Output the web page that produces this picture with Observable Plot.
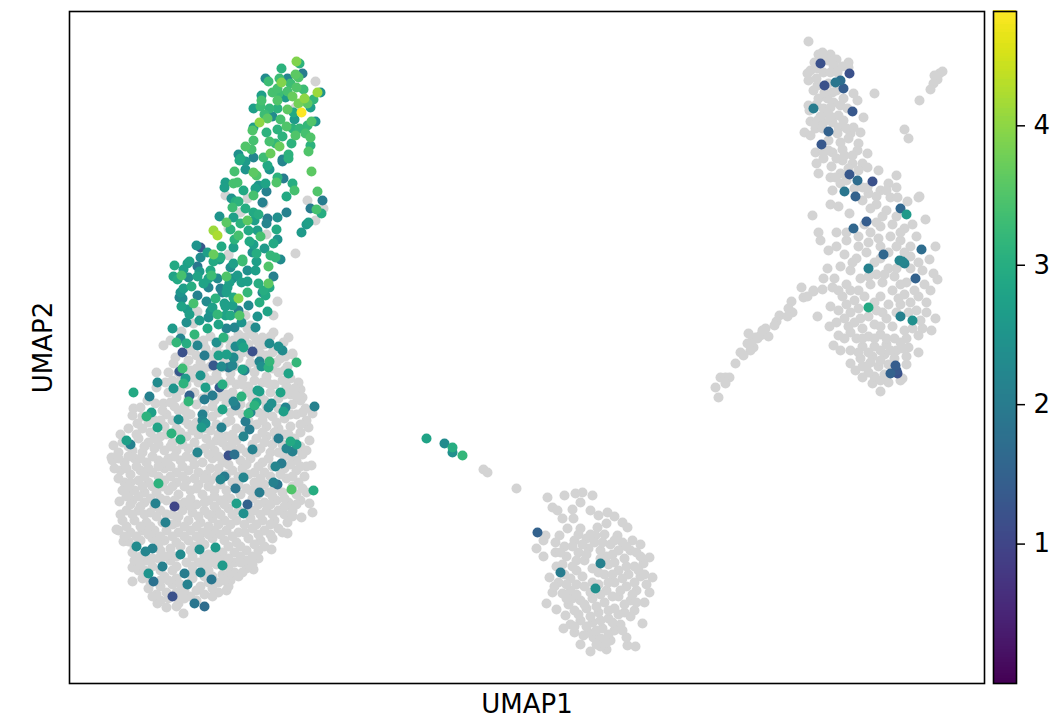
<!DOCTYPE html>
<html><head><meta charset="utf-8">
<script src="https://cdn.jsdelivr.net/npm/d3@7"></script>
<script src="https://cdn.jsdelivr.net/npm/@observablehq/plot@0.6"></script>
<style>
html,body{margin:0;padding:0;background:#fff}
#chart{position:relative;width:1053px;height:720px}
#chart svg{position:absolute;left:0;top:0;background:transparent}
</style></head><body><div id="chart"></div>
<script>
const xLabel = "UMAP1", yLabel = "UMAP2";
const barTicks = [1,2,3,4];
// embedding positions: [umap1, umap2]
const greyLeftEdge = [[163,345],[173,363],[156,372],[168,372],[165,382],[156,387],[147,400],[163,403],[133,408],[140,407],[132,415],[137,423],[120,434],[113,445],[111,457],[292,354],[287,366],[300,389],[302,397],[312,413],[309,440],[308,427],[311,465],[119,501],[116,529],[123,541],[128,493],[132,581],[132,567],[183,613],[157,603],[166,607],[178,603],[226,590],[253,569],[271,549],[287,533],[301,517],[309,503],[312,512],[287,522],[295,253],[277,301],[273,315],[273,332],[288,337],[262,337],[247,328],[245,315],[250,325],[250,333],[253,335],[170,340],[181,331],[193,323],[197,311],[203,340],[292,353],[228,255],[260,353],[244,337],[315,81],[295,107],[307,200],[315,220],[266,234],[323,208],[225,195],[263,203],[228,254],[247,198],[240,212],[228,228]];
const greyLeftBlob = [[196,340],[210,336],[225,338],[238,334],[256,340],[270,336],[283,342],[190,350],[205,348],[216,350],[230,346],[242,352],[258,348],[272,352],[285,356],[175,357],[188,360],[200,362],[213,358],[224,360],[238,358],[250,362],[264,358],[276,362],[178,372],[190,370],[204,368],[216,374],[230,373],[242,378],[254,372],[266,376],[278,372],[290,378],[172,380],[186,384],[198,382],[210,380],[224,384],[236,384],[248,386],[262,382],[274,384],[286,386],[298,382],[168,392],[180,390],[194,392],[208,392],[220,396],[232,392],[246,392],[260,396],[270,392],[290,394],[300,400],[155,403],[170,402],[184,406],[196,404],[212,406],[226,402],[240,404],[252,398],[264,400],[278,398],[292,404],[305,408],[142,416],[154,420],[166,414],[178,410],[190,414],[212,416],[230,412],[242,414],[258,412],[272,416],[284,418],[296,414],[306,420],[128,428],[142,428],[150,432],[164,426],[176,428],[188,424],[198,434],[210,430],[226,422],[236,428],[256,424],[266,426],[278,428],[290,426],[300,432],[122,442],[138,438],[148,442],[160,436],[172,442],[186,436],[194,442],[206,438],[216,440],[226,436],[236,440],[256,438],[266,436],[272,444],[284,434],[300,446],[118,452],[132,450],[142,452],[154,448],[164,450],[176,450],[188,448],[204,448],[214,450],[226,446],[240,448],[260,448],[270,452],[282,444],[302,454],[112,460],[124,462],[134,458],[146,462],[158,460],[168,458],[180,460],[192,458],[202,462],[212,458],[222,462],[240,460],[250,458],[262,462],[284,456],[296,460],[306,466],[120,470],[130,474],[140,470],[152,472],[164,468],[176,472],[188,470],[198,472],[210,468],[232,470],[242,468],[254,472],[264,472],[284,468],[296,470],[304,476],[124,482],[138,480],[148,482],[164,480],[176,482],[186,480],[198,484],[210,480],[232,482],[254,482],[264,484],[286,478],[298,482],[122,490],[134,490],[144,492],[156,492],[168,490],[178,494],[190,490],[202,494],[214,490],[226,490],[246,488],[268,492],[282,492],[296,494],[306,492],[132,500],[144,502],[166,500],[184,502],[196,504],[208,500],[220,500],[230,498],[252,498],[264,502],[276,500],[288,502],[300,500],[126,510],[138,510],[150,512],[160,510],[172,514],[182,510],[192,512],[204,510],[216,510],[228,508],[254,510],[266,510],[278,510],[292,510],[122,520],[134,520],[146,522],[156,516],[176,522],[188,520],[200,522],[212,518],[224,520],[236,520],[250,518],[262,520],[274,520],[284,514],[118,530],[130,532],[142,530],[154,530],[166,530],[178,532],[190,530],[202,532],[214,530],[226,530],[238,532],[252,528],[264,530],[278,528],[128,541],[140,540],[152,538],[164,540],[176,542],[188,540],[200,540],[212,538],[224,540],[236,542],[248,538],[260,540],[272,538],[132,552],[160,550],[170,548],[190,550],[208,554],[222,552],[234,552],[246,550],[258,550],[134,560],[146,560],[158,558],[170,560],[186,562],[198,562],[210,562],[222,558],[234,562],[246,560],[258,558],[138,570],[172,570],[192,566],[208,570],[222,574],[234,572],[246,568],[142,578],[164,576],[176,578],[192,578],[218,582],[230,580],[238,576],[148,588],[160,586],[172,584],[184,590],[200,586],[212,588],[228,586],[156,594],[176,592],[190,596],[204,594],[218,592],[180,598],[160,600]];
const greyLeftFill = [[203,344],[218,344],[233,340],[248,344],[264,344],[278,348],[196,355],[208,354],[222,354],[235,352],[250,354],[266,355],[280,358],[184,366],[196,368],[210,366],[222,367],[234,366],[246,368],[258,366],[272,368],[284,370],[180,380],[192,377],[204,376],[218,380],[230,380],[242,384],[254,380],[268,383],[282,380],[294,388],[176,397],[188,398],[202,398],[214,400],[226,394],[240,398],[254,392],[266,406],[284,394],[296,396],[162,410],[174,406],[186,412],[204,410],[218,412],[236,410],[250,406],[264,414],[278,408],[290,414],[302,412],[148,422],[160,420],[172,420],[184,420],[196,422],[216,424],[230,420],[248,420],[262,420],[276,422],[288,434],[300,424],[136,434],[154,438],[166,434],[180,432],[192,430],[204,428],[218,434],[232,434],[244,430],[262,432],[274,432],[294,438],[128,446],[144,446],[158,444],[170,446],[182,444],[198,450],[210,444],[222,442],[232,442],[252,444],[264,442],[276,438],[294,450],[306,450],[118,458],[128,456],[140,458],[152,456],[164,462],[174,456],[186,456],[196,454],[208,454],[218,456],[234,450],[246,452],[256,452],[268,458],[278,452],[290,456],[114,468],[126,468],[136,466],[148,468],[158,466],[170,466],[182,466],[194,464],[206,474],[218,468],[228,464],[246,464],[258,466],[272,466],[280,474],[290,464],[300,466],[118,478],[130,482],[144,476],[158,476],[170,476],[182,476],[194,478],[204,478],[216,476],[226,474],[238,476],[248,474],[260,478],[270,476],[292,476],[128,486],[142,486],[152,486],[162,486],[172,486],[184,486],[196,488],[208,486],[220,484],[238,484],[250,490],[258,486],[274,488],[292,486],[302,488],[126,496],[138,496],[150,498],[160,498],[174,500],[190,498],[204,502],[214,496],[226,498],[240,494],[258,494],[272,496],[284,498],[130,504],[140,506],[154,506],[178,504],[190,506],[214,506],[224,504],[238,510],[258,504],[270,504],[284,506],[296,504],[120,514],[132,514],[144,514],[166,514],[178,516],[198,516],[208,514],[220,514],[232,514],[246,512],[260,514],[272,514],[292,516],[126,526],[140,526],[150,526],[162,522],[172,524],[184,526],[196,526],[208,526],[218,524],[230,524],[244,524],[256,524],[270,524],[124,536],[136,536],[148,534],[160,536],[172,536],[184,536],[196,536],[208,534],[220,534],[232,536],[244,532],[258,534],[270,534],[282,532],[134,546],[158,544],[170,554],[180,546],[194,546],[204,544],[216,552],[228,546],[240,546],[254,544],[264,546],[140,556],[152,558],[164,556],[176,556],[192,556],[204,556],[216,558],[228,558],[240,556],[252,556],[140,564],[152,566],[176,566],[192,572],[204,564],[216,564],[228,566],[240,562],[252,564],[144,570],[160,570],[168,580],[180,584],[204,576],[212,576],[228,574],[242,572],[150,582],[160,580],[196,590],[208,582],[224,580],[166,592],[184,598],[196,600],[212,596],[152,596],[168,598],[176,606]];
const greyBottom = [[547,497],[564,495],[575,493],[582,492],[592,495],[552,507],[557,510],[572,509],[580,502],[590,510],[598,515],[607,512],[614,516],[562,518],[573,518],[622,522],[627,527],[606,523],[545,535],[543,540],[536,548],[543,556],[555,542],[559,535],[567,528],[580,528],[597,527],[595,535],[617,535],[632,540],[640,544],[649,557],[652,577],[643,563],[649,592],[644,602],[642,623],[635,646],[627,645],[626,637],[606,649],[590,651],[580,644],[583,635],[593,637],[563,628],[570,624],[565,615],[556,609],[546,603],[552,592],[562,593],[572,598],[549,577],[555,552],[564,546],[574,540],[586,538],[604,534],[610,544],[622,542],[630,550],[640,556],[566,556],[578,552],[588,548],[600,550],[612,554],[624,558],[634,566],[556,566],[572,566],[584,560],[592,568],[608,564],[618,570],[628,574],[640,576],[646,584],[558,582],[570,578],[582,576],[604,574],[614,582],[626,586],[636,590],[570,590],[584,586],[606,590],[618,596],[630,600],[580,600],[592,598],[604,602],[614,608],[624,612],[634,610],[574,610],[586,608],[598,612],[608,618],[620,624],[580,620],[592,622],[602,628],[614,630],[588,632],[600,638],[610,640],[574,632],[600,646],[568,604],[578,534],[590,534],[602,542],[614,540],[626,546],[560,552],[572,546],[582,544],[594,542],[606,556],[618,550],[636,552],[562,564],[576,560],[586,554],[600,558],[614,562],[626,566],[638,570],[564,574],[576,570],[598,572],[612,574],[622,578],[634,582],[644,574],[554,586],[566,584],[576,584],[592,582],[598,584],[608,582],[620,590],[632,594],[576,594],[590,592],[600,594],[612,596],[624,604],[636,602],[566,598],[584,604],[596,606],[608,610],[618,614],[630,616],[578,614],[590,616],[600,620],[612,622],[574,626],[586,626],[596,630],[608,634],[622,630],[596,644],[606,642]];
const greyStrand = [[801,287],[803,297],[807,296],[813,291],[791,301],[779,315],[788,308],[792,312],[787,316],[776,321],[774,325],[765,328],[748,333],[768,336],[760,335],[755,337],[752,340],[747,343],[753,347],[750,350],[740,352],[743,355],[735,363],[720,377],[725,377],[729,377],[725,383],[715,387],[718,397],[757,338],[762,330],[483,469],[487,472],[516,488]];
const greyRightTop = [[808,41],[818,54],[822,52],[830,54],[836,59],[848,62],[827,60],[833,65],[848,67],[810,70],[807,73],[817,68],[823,72],[830,72],[837,72],[808,80],[813,90],[817,85],[828,83],[832,92],[853,93],[874,93],[818,98],[827,98],[833,102],[843,98],[857,100],[808,105],[809,110],[823,108],[830,107],[840,105],[847,108],[827,113],[838,115],[810,121],[817,120],[823,122],[832,122],[863,117],[804,132],[810,135],[815,128],[822,128],[838,127],[837,133],[853,127],[850,133],[860,132],[848,138],[840,142],[858,143],[815,152],[823,152],[832,152],[842,149],[857,150],[852,155],[867,153],[823,158],[816,163],[831,166],[842,160],[852,163],[862,163],[867,167],[818,173],[830,177],[840,173],[878,170],[896,175],[835,177],[840,183],[832,190],[888,183],[896,187],[862,187],[868,193],[880,190],[890,197],[897,197],[919,196],[907,201],[867,187],[942,71],[939,73],[934,75],[937,79],[933,83],[930,89],[919,100],[904,129],[908,138],[824,58],[814,62],[842,66],[816,78],[824,92],[816,104],[836,90],[820,116],[830,116],[843,120],[846,128],[828,140],[844,155],[836,158],[828,150],[848,168],[858,170],[846,180],[854,188],[886,190],[876,196]];
const greyRightLow = [[812,215],[830,204],[838,206],[849,213],[918,197],[925,219],[935,246],[929,259],[937,279],[933,273],[818,232],[820,240],[828,250],[827,268],[823,278],[813,290],[822,289],[832,287],[830,306],[817,316],[829,326],[935,318],[931,330],[922,328],[918,335],[918,352],[908,347],[880,391],[900,380],[902,378],[850,363],[855,370],[862,377],[872,383],[888,382],[833,345],[840,350],[838,335],[862,200],[876,204],[886,210],[896,216],[912,224],[858,236],[870,232],[880,226],[892,224],[904,228],[916,236],[836,232],[846,240],[858,246],[868,242],[878,238],[890,236],[900,240],[910,246],[836,246],[844,254],[856,258],[874,262],[888,252],[910,256],[918,262],[840,266],[850,270],[860,278],[876,274],[888,268],[910,268],[922,270],[834,278],[846,284],[858,290],[870,284],[882,282],[894,276],[906,282],[924,284],[930,290],[842,296],[854,300],[880,296],[892,290],[904,294],[918,296],[926,302],[838,310],[850,312],[860,318],[876,310],[888,304],[900,304],[916,310],[926,312],[836,322],[848,326],[862,328],[874,324],[886,318],[892,326],[904,330],[920,320],[844,338],[856,338],[868,336],[880,334],[894,338],[906,338],[850,350],[862,346],[874,346],[886,344],[896,350],[860,358],[872,356],[884,354],[894,358],[906,356],[866,366],[878,366],[888,364],[906,364],[874,376],[884,374],[862,366],[870,208],[882,216],[864,224],[876,222],[900,232],[846,232],[866,252],[880,246],[896,246],[904,252],[880,258],[896,268],[852,262],[868,276],[884,274],[900,284],[914,290],[838,290],[850,290],[864,296],[874,302],[898,298],[910,302],[846,304],[858,308],[882,312],[908,312],[844,318],[854,322],[868,316],[880,326],[896,312],[912,328],[850,332],[862,338],[874,338],[886,338],[900,342],[858,352],[868,352],[880,350],[890,350],[902,348],[870,362],[880,360],[892,366],[868,372],[880,380]];
// expressing cells: [umap1, umap2, value]
const exprTop = [[296,61,3.9],[281,68,3.1],[299,63,3.1],[302,73,2.0],[295,74,3.6],[298,77,3.5],[265,78,2.3],[268,81,3.3],[281,82,3.9],[287,78,2.2],[279,78,3.3],[290,83,3.3],[317,92,4.1],[320,92,2.5],[303,89,3.3],[296,87,3.5],[287,91,3.4],[272,92,3.4],[277,88,3.4],[261,95,2.7],[278,93,3.3],[292,96,3.7],[304,98,4],[313,99,3.2],[307,103,3.6],[298,103,3.8],[277,100,3.5],[261,100,3.4],[285,97,2.6],[253,108,2.7],[260,106,3.3],[269,108,3.2],[287,109,3.6],[277,108,3.1],[301,112,4.8],[310,107,2.7],[293,112,2.9],[264,114,3.3],[267,118,3.6],[259,122,4],[280,119,3.4],[272,116,2.3],[294,119,2.6],[315,121,2.5],[311,121,3.5],[307,125,3.2],[286,126,3.5],[277,129,3.1],[299,128,3.2],[292,128,3.1],[266,132,3.1],[253,127,2.7],[252,130,3.5],[305,133,3.4],[295,135,3.5],[282,136,3.1],[310,137,3.5],[269,141,3.4],[291,143,3.1],[275,143,3.2],[279,146,3.7],[253,140,3.4],[245,146,3.5],[251,149,3.4],[310,145,3.1],[308,151,3.5],[270,153,3.7],[288,154,3.1],[263,157,3.3],[238,154,2.4],[253,157,2.2],[240,158,2.9],[282,159,2.2],[288,158,3.1]];
const exprUpper = [[239,160,2.9],[282,161,2.2],[245,161,2.6],[267,165,2.9],[269,169,2.5],[234,171,3.4],[245,169,2.5],[253,172,3.6],[256,175,3.5],[311,171,3.6],[225,182,2.7],[233,183,3.4],[237,182,3.4],[283,178,2],[277,177,3.1],[276,182,3.5],[265,183,2.8],[258,185,2.5],[255,188,2.7],[292,183,3],[294,190,3.4],[224,187,2.7],[243,190,2.9],[266,191,2.1],[253,195,3.4],[317,191,3.5],[286,196,2.9],[231,198,2.5],[235,201,3],[238,201,3.1],[322,200,2],[262,202,2.1],[232,207,3.3],[245,208,3],[310,208,2],[316,209,3.4],[321,213,3],[219,216,2.5],[233,217,2.7],[286,212,2.1],[253,212,2.9],[258,214,3],[267,218,2],[277,217,2.4],[266,223,2.2],[308,222,2.7],[306,224,2.6],[226,222,3.6],[247,220,3.6],[240,223,3.1],[254,220,2.7],[276,229,2.9],[213,230,4.1],[217,235,4.2],[230,229,3.1],[248,230,2.9],[257,230,2.7],[301,232,2.6],[238,235,3.4],[260,236,3.4],[234,239,3.1],[277,239,2.5],[273,243,2.9],[249,241,2.9],[196,245,2.5],[200,247,1.3],[221,246,2.9],[233,247,2.7],[253,244,2.7],[264,248,2.6],[207,252,2.7],[213,254,3.7],[200,257,2.3],[220,257,3],[256,253,3],[270,255,3.2],[275,257,3.2],[242,259,3.3],[280,259,2.3]];
const exprMiddle = [[174,265,2.9],[189,261,2.8],[187,263,2.7],[197,266,1.9],[213,261,2.9],[219,259,2.6],[230,267,2.4],[233,263,2.7],[242,261,3.3],[256,261,2.7],[252,252,2.4],[268,266,3.5],[247,270,2.4],[255,270,2.7],[183,269,2.7],[199,271,2.6],[210,270,2.9],[173,276,2.8],[181,275,3.4],[177,279,2.9],[188,277,2.3],[197,276,2.8],[211,275,3.3],[208,278,2.8],[217,278,2.3],[226,276,3.5],[237,275,2.6],[232,278,2.4],[273,276,2.1],[183,288,2.7],[191,286,3],[203,283,2.8],[208,287,2.2],[220,288,2.1],[229,282,2.7],[227,287,2.7],[241,282,2.7],[247,281,2.7],[258,283,3],[268,283,3.6],[269,287,2.9],[263,290,3],[265,295,2.9],[226,292,2.7],[222,292,2.2],[180,292,2.5],[179,297,2.2],[182,298,2.3],[197,295,2.1],[215,298,3.1],[233,297,2.9],[238,298,3.9],[247,292,3.2],[262,292,2.2],[206,301,2.3],[193,303,3.4],[181,306,2.8],[224,303,2.7],[232,305,2.7],[248,305,2.3],[259,302,3],[238,310,2.1],[212,307,2.7],[210,311,2.5],[225,306,2.7],[187,309,2.6],[189,314,2.7],[267,311,2.8],[217,314,3.2],[225,315,2.8],[230,315,2.9],[239,315,3.5],[208,317,2.4],[199,320,2.6],[257,316,2.5],[186,322,2.4],[241,322,2.5],[218,324,2.8],[207,328,2.9],[226,328,2.2],[234,327,2.2],[255,327,2.3],[172,328,2.6],[194,334,3.2],[223,337,3.1],[180,338,2.2]];
const exprLower = [[176,342,3.2],[186,343,3],[197,345,2.2],[216,342,2.4],[235,346,2.3],[241,343,2.6],[243,347,2.8],[269,343,2.3],[278,346,2.4],[282,350,2.3],[182,352,1.2],[204,355,2],[218,355,2.7],[226,354,2.7],[233,357,2.3],[252,351,1.2],[213,365,1.3],[221,366,2.3],[228,367,1.9],[232,365,2.2],[242,369,2.8],[244,370,2.1],[259,361,2.2],[261,366,2.4],[269,361,3.2],[268,367,3.1],[296,362,3.2],[288,373,2.8],[179,371,1.3],[182,368,3.3],[200,375,2.5],[185,378,2.6],[183,383,3.1],[157,382,2.3],[133,392,2.9],[149,396,2.1],[173,388,2.5],[205,387,2.7],[219,387,1.4],[222,384,3],[189,395,1.5],[188,401,3.2],[212,395,2],[204,399,2],[241,396,3.1],[257,390,2.7],[259,391,2.7],[280,392,2.8],[233,401,2.2],[235,405,2],[256,402,2.8],[254,405,3.1],[271,403,2.4],[268,407,2.3],[285,407,2.2],[283,411,2.7],[314,406,2.1],[222,409,2.8],[248,413,3.1],[250,412,2.2],[151,412,2.7],[146,416,3.1],[202,414,2.1],[178,419,2.4],[245,421,2],[202,420,2.2],[205,423,2.4],[201,427,2.6],[221,427,2.1],[157,427,2.8],[249,429,2],[171,433,3.1],[180,439,3],[243,436,2.2],[278,438,2],[290,441,2.9],[296,444,2.7],[286,448,2.2],[292,451,2.1],[126,440,2.7],[130,444,2.1],[252,449,2.1],[197,452,2.2],[228,455,1.2],[234,454,1.8],[275,466,2.2],[281,463,2],[224,476,2],[220,479,2.2],[243,477,2.2],[273,482,2.1],[277,484,1.9],[158,483,3.1],[291,489,3.5],[313,490,3],[235,488,1.9],[259,492,2],[155,503,2.1],[174,506,1],[236,503,2.7],[247,504,1.5],[243,513,2.4],[165,522,2.1],[136,546,2.3],[145,551,2.2],[152,548,2.1],[180,554,2.3],[199,549,2.4],[215,547,2.6],[162,566,2.1],[222,565,2.6],[148,573,2.5],[153,581,1.8],[184,573,2],[200,572,2.2],[211,579,1.9],[187,584,2.1],[172,596,1.2],[194,603,1.9],[204,606,1.7]];
const exprOther = [[426,438,2.8],[444,443,2.3],[452,452,2.4],[452,447,3],[462,455,3.2],[537,532,1.5],[560,572,2],[600,563,2.1],[595,588,2.4]];
const exprRight = [[820,63,1.2],[849,73,1.2],[824,85,1.2],[835,82,1.9],[840,80,1.7],[843,88,1.4],[852,111,1.3],[813,108,2],[828,131,1.5],[821,144,1.3],[849,174,1.3],[857,180,1.7],[872,181,1.2],[844,191,1.9],[855,196,1.5],[900,208,1.6],[906,214,2.6],[866,221,1.4],[853,228,1.6],[921,249,1.7],[883,254,1.6],[899,260,2.2],[902,261,2.2],[904,263,2.1],[868,268,2.1],[915,278,1.5],[868,307,2.9],[900,316,2.1],[912,320,2.4],[895,365,1.4],[896,370,1.3],[897,373,1.2],[890,373,1.5]];

const grey = [...greyLeftEdge,...greyLeftBlob,...greyLeftFill,...greyBottom,...greyStrand,...greyRightTop,...greyRightLow];
const expr = [...exprTop,...exprUpper,...exprMiddle,...exprLower,...exprOther,...exprRight].sort((a,b)=>a[2]-b[2]);
const maxValue = 4.82;
const font = "'DejaVu Sans'";
const color = {type:"linear", scheme:"viridis", domain:[0,maxValue]};

const main = Plot.plot({
  width:1053, height:720, marginLeft:69, marginRight:69, marginTop:11, marginBottom:37,
  style:{fontFamily:font, fontSize:"26px", background:"transparent"},
  x:{domain:[69,984], axis:null}, y:{domain:[683,11], axis:null},
  color,
  marks:[
    Plot.dot(grey,{x:d=>d[0],y:d=>d[1],r:5,fill:"#d3d3d3",stroke:"none"}),
    Plot.dot(expr,{x:d=>d[0],y:d=>d[1],r:5,fill:d=>d[2],stroke:"none"}),
    Plot.frame({stroke:"#000",strokeWidth:1.6}),
    Plot.text([xLabel],{frameAnchor:"bottom",dy:21,lineAnchor:"middle",fontSize:26,fill:"#000"}),
    Plot.text([yLabel],{frameAnchor:"left",dx:-26,rotate:-90,textAnchor:"middle",fontSize:26,fill:"#000"})
  ]
});
const stops = d3.range(0,maxValue,maxValue/256);
const bar = Plot.plot({
  width:1053, height:720, marginLeft:993, marginRight:37, marginTop:11, marginBottom:37,
  style:{fontFamily:font, fontSize:"26px", background:"transparent"},
  x:{domain:[0,1], axis:null}, y:{domain:[0,maxValue], axis:null},
  color,
  marks:[
    Plot.rect(stops,{x1:0,x2:1,y1:d=>d,y2:d=>d+maxValue/200,fill:d=>d,shapeRendering:"crispEdges"}),
    Plot.frame({stroke:"#000",strokeWidth:1.6}),
    Plot.axisY(barTicks,{anchor:"right",tickSize:8,tickPadding:9,fontSize:26,label:null,tickFormat:d=>String(d),stroke:"#000",strokeWidth:1.5,color:"#000"})
  ]
});
const c = document.getElementById("chart");
c.append(main, bar);
</script></body></html>
